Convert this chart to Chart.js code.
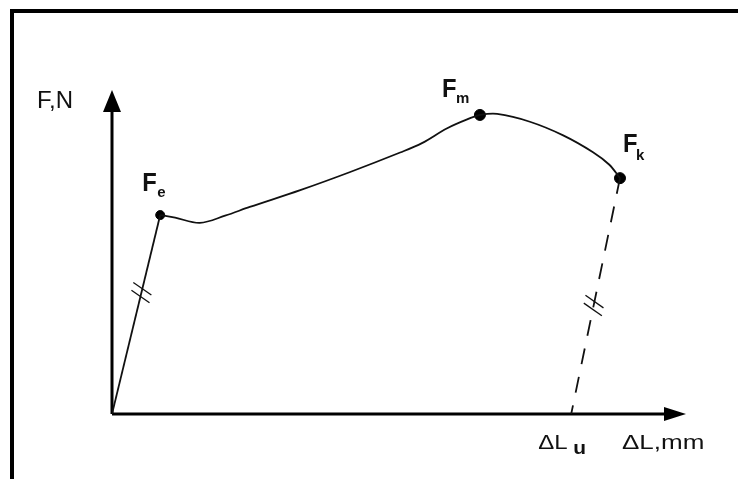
<!DOCTYPE html>
<html>
<head>
<meta charset="utf-8">
<script src="https://cdn.jsdelivr.net/npm/chart.js@4.4.0/dist/chart.umd.min.js"></script>
<style>
    html, body { margin: 0; padding: 0; background: #fff; }
    #wrap { position: relative; width: 738px; height: 479px; }
</style>
</head>
<body>
<div id="wrap"><canvas id="chart" width="738" height="479"></canvas></div>
<script>
// Force / elongation diagram, arbitrary units 0..100 on both axes
const elasticX = [0, 8.4];
const elasticY = [0, 61.4];
const curveX = [8.4, 11.0, 15.3, 19.7, 24.0, 32.8, 41.5, 50.2, 54.0, 58.4, 62.4, 64.1, 67.1, 72.8, 78.6, 83.8, 86.6, 88.5];
const curveY = [61.4, 60.6, 59.0, 61.2, 63.9, 69.1, 74.7, 80.7, 83.6, 88.2, 91.3, 92.3, 92.6, 90.2, 86.0, 80.8, 77.0, 72.8];
const unloadX = [88.5, 80.0];
const unloadY = [72.8, 0];
const keyNames = ['F', 'F', 'F'];
const keySubs = ['e', 'm', 'k'];
const keyX = [8.4, 64.1, 88.5];
const keyY = [61.4, 92.3, 72.8];
const yTitle = 'F,N';
const xTitle = '\u0394L,mm';
const residualName = '\u0394L';
const residualSub = 'u';

const toPoints = (xs, ys) => xs.map((x, i) => ({ x: x, y: ys[i] }));

// label offsets (px) relative to each key point: [F dx, F dy, sub dx, sub dy]
const keyOffsets = [
    [-18, -24, -3, -18],
    [-38, -18, -24, -12],
    [3, -26, 16, -18]
];

function drawText(ctx, text, x, y, font, sx) {
    ctx.save();
    ctx.font = font;
    ctx.textBaseline = 'alphabetic';
    ctx.textAlign = 'left';
    ctx.translate(x, y);
    ctx.scale(sx || 1, 1);
    ctx.fillText(text, 0, 0);
    ctx.restore();
}

function drawHash(ctx, p0, p1, t) {
    // two short slanted strokes across a segment, at fraction t of it
    const cx = p0.x + (p1.x - p0.x) * t;
    const cy = p0.y + (p1.y - p0.y) * t;
    const len = Math.hypot(p1.x - p0.x, p1.y - p0.y);
    const ux = (p1.x - p0.x) / len, uy = (p1.y - p0.y) / len;
    const mx = 0.82, my = 0.57, half = 11;
    ctx.save();
    ctx.strokeStyle = '#111';
    ctx.lineWidth = 1.3;
    ctx.setLineDash([]);
    [-4, 4].forEach(s => {
        const px = cx + ux * s, py = cy + uy * s;
        ctx.beginPath();
        ctx.moveTo(px - mx * half, py - my * half);
        ctx.lineTo(px + mx * half, py + my * half);
        ctx.stroke();
    });
    ctx.restore();
}

const diagramPlugin = {
    id: 'diagram',
    beforeDatasetsDraw(chart) {
        const ctx = chart.ctx;
        const a = chart.chartArea;
        ctx.save();
        // outer frame (runs off the right and bottom edges)
        ctx.strokeStyle = '#000';
        ctx.lineWidth = 4;
        ctx.strokeRect(12, 11, 800, 600);

        // axes
        ctx.lineWidth = 3;
        ctx.beginPath();
        ctx.moveTo(a.left, a.bottom);
        ctx.lineTo(a.left, a.top + 18);
        ctx.moveTo(a.left, a.bottom);
        ctx.lineTo(a.right - 18, a.bottom);
        ctx.stroke();

        // arrow heads
        ctx.fillStyle = '#000';
        ctx.beginPath();
        ctx.moveTo(a.left, a.top);
        ctx.lineTo(a.left - 9, a.top + 22);
        ctx.lineTo(a.left + 9, a.top + 22);
        ctx.closePath();
        ctx.fill();
        ctx.beginPath();
        ctx.moveTo(a.right, a.bottom);
        ctx.lineTo(a.right - 22, a.bottom - 7);
        ctx.lineTo(a.right - 22, a.bottom + 7);
        ctx.closePath();
        ctx.fill();
        ctx.restore();
    },
    afterDraw(chart) {
        const ctx = chart.ctx;
        const a = chart.chartArea;
        const xs = chart.scales.x, ys = chart.scales.y;
        const px = (x, y) => ({ x: xs.getPixelForValue(x), y: ys.getPixelForValue(y) });

        // hash marks on elastic and unloading lines
        drawHash(ctx, px(elasticX[0], elasticY[0]), px(elasticX[1], elasticY[1]), 0.61);
        drawHash(ctx, px(unloadX[0], unloadY[0]), px(unloadX[1], unloadY[1]), 0.54);

        ctx.fillStyle = '#111';
        // key point labels
        keyX.forEach((x, i) => {
            const p = px(x, keyY[i]);
            const o = keyOffsets[i];
            drawText(ctx, keyNames[i], p.x + o[0], p.y + o[1], 'bold 25px "Liberation Sans", Arial, sans-serif', 0.95);
            drawText(ctx, keySubs[i], p.x + o[2], p.y + o[3], 'bold 15px "Liberation Sans", Arial, sans-serif', 1);
        });

        // axis titles
        drawText(ctx, yTitle, a.left - 75, a.top + 18, '24px "Liberation Sans", Arial, sans-serif', 1);
        drawText(ctx, xTitle, a.right - 64, a.bottom + 35, '20px "Liberation Sans", Arial, sans-serif', 1.3);

        // residual elongation label
        const r = px(unloadX[1], unloadY[1]);
        drawText(ctx, residualName, r.x - 33, r.y + 35, '20px "Liberation Sans", Arial, sans-serif', 1.2);
        drawText(ctx, residualSub, r.x + 2, r.y + 40, 'bold 19px "Liberation Sans", Arial, sans-serif', 1.1);
    }
};

const lineStyle = {
    showLine: true,
    borderColor: '#111',
    borderWidth: 1.8,
    pointRadius: 0,
    fill: false
};

new Chart(document.getElementById('chart'), {
    type: 'scatter',
    data: {
        datasets: [{
            ...lineStyle,
            label: 'elastic',
            data: toPoints(elasticX, elasticY)
        }, {
            ...lineStyle,
            label: 'plastic',
            data: toPoints(curveX, curveY),
            tension: 0.35
        }, {
            ...lineStyle,
            label: 'unloading',
            data: toPoints(unloadX, unloadY),
            borderDash: [16, 13]
        }, {
            label: 'key points',
            data: toPoints(keyX, keyY),
            showLine: false,
            pointRadius: [4.5, 5.5, 5.5],
            pointBackgroundColor: '#000',
            pointBorderColor: '#000',
            pointBorderWidth: 1
        }]
    },
    options: {
        responsive: false,
        animation: false,
        layout: { padding: { left: 112, top: 90, right: 52, bottom: 65 } },
        scales: {
            x: { type: 'linear', min: 0, max: 100, display: false },
            y: { type: 'linear', min: 0, max: 100, display: false }
        },
        plugins: {
            legend: { display: false },
            tooltip: { enabled: false }
        }
    },
    plugins: [diagramPlugin]
});
</script>
</body>
</html>
